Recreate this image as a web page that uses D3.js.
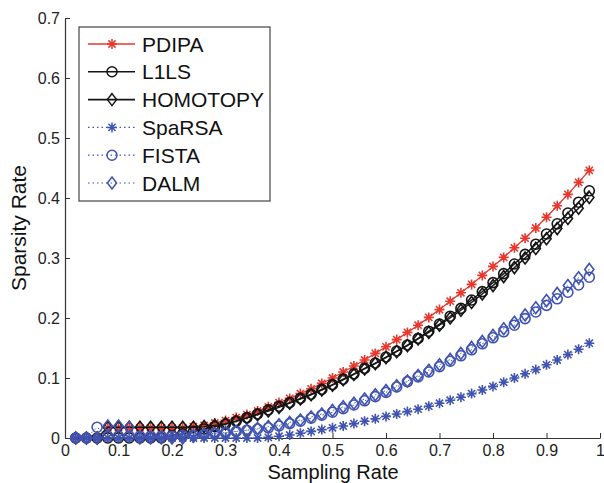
<!DOCTYPE html>
<html><head><meta charset="utf-8">
<script src="https://cdn.jsdelivr.net/npm/d3@7"></script>
<style>body{margin:0;background:#fff}svg{display:block}</style>
</head><body><svg id="c" width="604" height="483"></svg>
<script>
const samplingRate = [0.02,0.04,0.06,0.08,0.10,0.12,0.14,0.16,0.18,0.20,0.22,0.24,0.26,0.28,0.30,0.32,0.34,0.36,0.38,0.40,0.42,0.44,0.46,0.48,0.50,0.52,0.54,0.56,0.58,0.60,0.62,0.64,0.66,0.68,0.70,0.72,0.74,0.76,0.78,0.80,0.82,0.84,0.86,0.88,0.90,0.92,0.94,0.96,0.98];
const PDIPA = [0,0,0,0.017,0.017,0.017,0.017,0.017,0.017,0.017,0.017,0.019,0.021,0.025,0.029,0.034,0.039,0.045,0.052,0.059,0.066,0.074,0.082,0.091,0.100,0.110,0.120,0.130,0.141,0.152,0.164,0.176,0.188,0.201,0.214,0.228,0.242,0.256,0.271,0.286,0.301,0.317,0.333,0.350,0.368,0.387,0.406,0.426,0.446];
const L1LS = [0,0,0,0,0,0,0,0,0,0.004,0.007,0.011,0.015,0.019,0.023,0.028,0.034,0.040,0.047,0.053,0.059,0.066,0.073,0.081,0.089,0.098,0.107,0.116,0.125,0.135,0.145,0.155,0.166,0.178,0.190,0.203,0.216,0.230,0.244,0.259,0.274,0.290,0.306,0.323,0.340,0.357,0.375,0.393,0.412];
const HOMOTOPY = [0,0,0,0.018,0.018,0.018,0.018,0.018,0.018,0.018,0.018,0.018,0.019,0.021,0.024,0.028,0.033,0.039,0.045,0.051,0.058,0.065,0.072,0.080,0.088,0.097,0.106,0.115,0.124,0.134,0.144,0.154,0.165,0.176,0.188,0.200,0.213,0.226,0.240,0.254,0.269,0.284,0.300,0.316,0.332,0.349,0.366,0.383,0.401];
const SpaRSA = [0,0,0,0,0,0,0,0,0,0,0,0,0,0,0,0,0,0,0.001,0.003,0.005,0.008,0.011,0.014,0.017,0.020,0.024,0.028,0.032,0.036,0.040,0.044,0.048,0.053,0.058,0.063,0.068,0.074,0.080,0.086,0.093,0.100,0.107,0.114,0.122,0.130,0.139,0.148,0.158];
const FISTA = [0,0,0.018,0.003,0.003,0.003,0.003,0.003,0.003,0.003,0.004,0.005,0.006,0.008,0.009,0.011,0.013,0.015,0.017,0.020,0.024,0.028,0.033,0.038,0.043,0.049,0.055,0.062,0.069,0.076,0.085,0.094,0.102,0.110,0.119,0.128,0.137,0.147,0.157,0.167,0.177,0.188,0.199,0.210,0.221,0.232,0.243,0.255,0.268];
const DALM = [0,0,0,0.020,0.020,0.018,0,0,0,0,0,0.003,0.005,0.007,0.009,0.011,0.013,0.016,0.019,0.022,0.026,0.030,0.035,0.040,0.046,0.052,0.058,0.065,0.072,0.079,0.087,0.095,0.104,0.113,0.122,0.131,0.141,0.151,0.161,0.171,0.182,0.193,0.205,0.217,0.229,0.241,0.254,0.267,0.281];
const seriesNames = ["PDIPA","L1LS","HOMOTOPY","SpaRSA","FISTA","DALM"];
const xTicks = [0,0.1,0.2,0.3,0.4,0.5,0.6,0.7,0.8,0.9,1];
const xTickLabels = ["0","0.1","0.2","0.3","0.4","0.5","0.6","0.7","0.8","0.9","1"];
const yTicks = [0,0.1,0.2,0.3,0.4,0.5,0.6,0.7];
const yTickLabels = ["0","0.1","0.2","0.3","0.4","0.5","0.6","0.7"];

const RED = "#e8372c", BLACK = "#151515", BLUE = "#4053b0";
const styles = {
  PDIPA:{color:RED,dash:null,marker:"star",width:1.3},
  L1LS:{color:BLACK,dash:null,marker:"circle",width:1.4},
  HOMOTOPY:{color:BLACK,dash:null,marker:"diamond",width:1.4},
  SpaRSA:{color:BLUE,dash:"1.5,3",marker:"star",width:1},
  FISTA:{color:BLUE,dash:"1.5,3",marker:"circle",width:1},
  DALM:{color:BLUE,dash:"1.5,3",marker:"diamond",width:1}
};
const dataMap = {PDIPA,L1LS,HOMOTOPY,SpaRSA,FISTA,DALM};

const svg = d3.select("#c");
const x = d3.scaleLinear().domain([0,1]).range([65,600]);
const y = d3.scaleLinear().domain([0,0.7]).range([438,18]);
const font = "'Liberation Sans', Arial, Helvetica, sans-serif";

function markerPath(type){
  if(type==="star"){const r=5,a=3.6;return `M${-r},0L${r},0M0,${-r}L0,${r}M${-a},${-a}L${a},${a}M${-a},${a}L${a},${-a}`;}
  if(type==="circle"){const r=5;return `M${r},0A${r},${r} 0 1,1 ${-r},0A${r},${r} 0 1,1 ${r},0Z`;}
  return "M0,-6L4.6,0L0,6L-4.6,0Z";
}

// axes
const xAxis = d3.axisBottom(x).tickValues(xTicks).tickFormat((d,i)=>xTickLabels[i]).tickSizeInner(-5).tickSizeOuter(0).tickPadding(7);
const yAxis = d3.axisLeft(y).tickValues(yTicks).tickFormat((d,i)=>yTickLabels[i]).tickSizeInner(-5).tickSizeOuter(0).tickPadding(5);
const gx = svg.append("g").attr("transform","translate(0,438)").call(xAxis);
const gy = svg.append("g").attr("transform","translate(65,0)").call(yAxis);
[gx,gy].forEach(g=>{
  g.selectAll("path.domain").attr("stroke","#333").attr("stroke-width",1.2);
  g.selectAll(".tick line").attr("stroke","#333").attr("stroke-width",1);
  g.selectAll("text").attr("font-family",font).attr("font-size",16).attr("fill","#222");
});

// series
seriesNames.forEach(name=>{
  const st = styles[name], vals = dataMap[name];
  const pts = samplingRate.map((sx,i)=>[sx,vals[i]]);
  const g = svg.append("g");
  g.append("path").datum(pts)
    .attr("d", d3.line().x(d=>x(d[0])).y(d=>y(d[1])))
    .attr("fill","none").attr("stroke",st.color).attr("stroke-width",st.width)
    .attr("stroke-dasharray",st.dash);
  g.selectAll("path.m").data(pts).enter().append("path").attr("class","m")
    .attr("d",markerPath(st.marker))
    .attr("transform",d=>`translate(${x(d[0])},${y(d[1])})`)
    .attr("fill","none").attr("stroke",st.color).attr("stroke-width",1.6);
});

// legend
const lg = svg.append("g");
lg.append("rect").attr("x",79).attr("y",27).attr("width",191).attr("height",174)
  .attr("fill","#fff").attr("stroke","#444").attr("stroke-width",1.2);
const ly = d3.scalePoint().domain(seriesNames).range([44,183]);
seriesNames.forEach(name=>{
  const st = styles[name], yy = ly(name);
  lg.append("line").attr("x1",88).attr("x2",135).attr("y1",yy).attr("y2",yy)
    .attr("stroke",st.color).attr("stroke-width",st.width+0.2).attr("stroke-dasharray",st.dash);
  lg.append("path").attr("d",markerPath(st.marker)).attr("transform",`translate(112,${yy})`)
    .attr("fill","none").attr("stroke",st.color).attr("stroke-width",1.5);
  lg.append("text").attr("x",142).attr("y",yy+7.5).text(name)
    .attr("font-family",font).attr("font-size",21).attr("fill","#111");
});

// axis labels
svg.append("text").attr("x",333).attr("y",479).attr("text-anchor","middle")
  .attr("font-family",font).attr("font-size",20).attr("fill","#111").text("Sampling Rate");
svg.append("text").attr("transform","translate(26,228) rotate(-90)").attr("text-anchor","middle")
  .attr("font-family",font).attr("font-size",21).attr("fill","#111").text("Sparsity Rate");
</script></body></html>
